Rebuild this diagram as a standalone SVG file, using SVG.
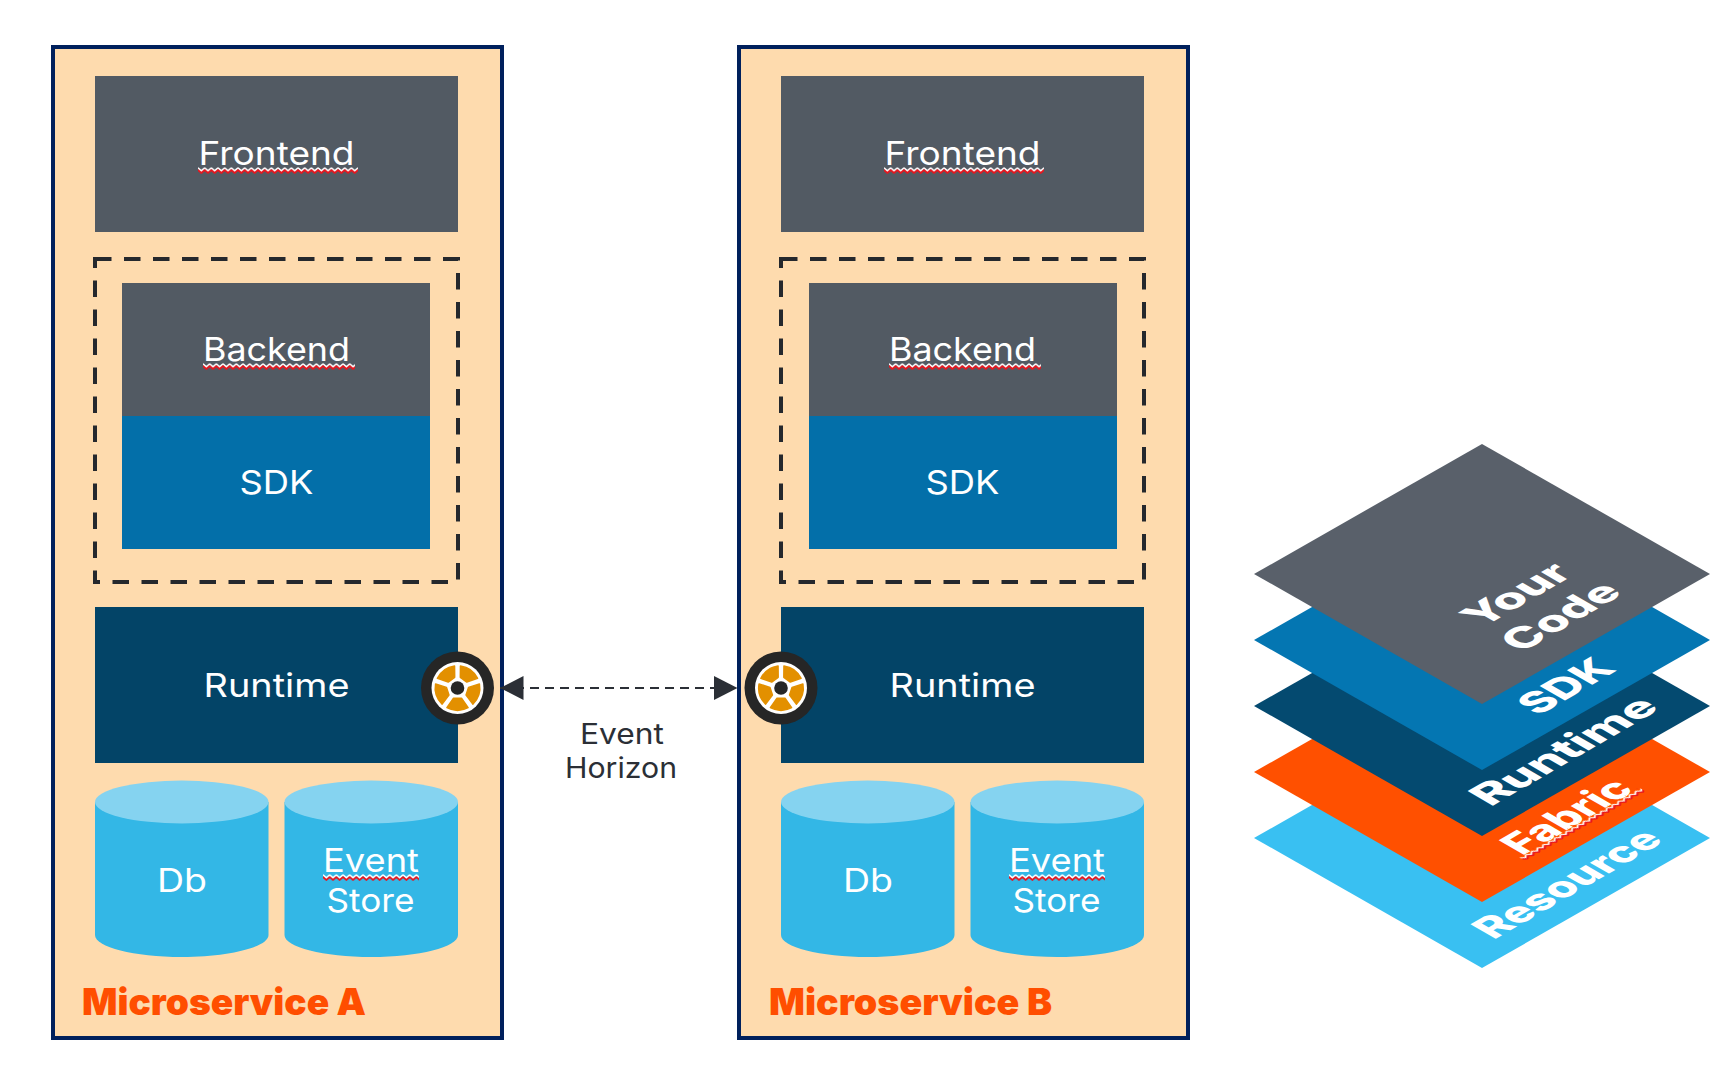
<svg xmlns="http://www.w3.org/2000/svg" xmlns:xlink="http://www.w3.org/1999/xlink" width="1718" height="1072" viewBox="0 0 1718 1072">
<style>
text{font-family:"Inter","Open Sans","Liberation Sans",sans-serif}
.lbl{font-size:33px;fill:#fff;text-anchor:middle}
.outer{fill:#fedbae;stroke:#00205c;stroke-width:4}
.gray{fill:#525a63}
.sdk{fill:#036fa9}
.rt{fill:#034467}
.dash{fill:none;stroke:#25282d;stroke-width:4;stroke-dasharray:16.5 12.5}
.body{fill:#33b7e6}
.top{fill:#85d3f0}
.title{font-size:37px;font-weight:900;fill:#ff4e00}
.iso{font-size:40px;font-weight:800;fill:#fff}
.cap{font-size:28.5px;fill:#2b2f36;text-anchor:middle}
.conn{stroke:#2b2f36;stroke-width:2.2;stroke-dasharray:9 6;fill:none}
</style>
<defs>
<pattern id="sq" patternUnits="userSpaceOnUse" width="6.67" height="8">
<path d="M0 3.8L3.33 6.8L6.67 3.8" fill="none" stroke="#e8141c" stroke-width="2"/>
<path d="M0 1.8L3.33 4.8L6.67 1.8" fill="none" stroke="#fff" stroke-width="1.5"/>
</pattern>
<marker id="ah" viewBox="0 0 23.5 24" refX="23.5" refY="12" markerWidth="23.5" markerHeight="24" markerUnits="userSpaceOnUse" orient="auto-start-reverse">
<path d="M0 0L23.5 12L0 24Z" fill="#2b2f36"/>
</marker>
<path id="spoke" d="M-4 10.3L4 10.3L10.6 19.6A22.5 22.5 0 0 1-10.6 19.6Z" fill="#e39000" stroke="#e39000" stroke-width="1.5" stroke-linejoin="round"/>
<g id="wheel">
<circle r="36.5" fill="#262626"/>
<circle r="26" fill="#fff"/>
<use xlink:href="#spoke"/>
<use xlink:href="#spoke" transform="rotate(72)"/>
<use xlink:href="#spoke" transform="rotate(144)"/>
<use xlink:href="#spoke" transform="rotate(216)"/>
<use xlink:href="#spoke" transform="rotate(288)"/>
<circle r="6.8" fill="#262626"/>
</g>
<g id="cyl">
<path class="body" d="M0 22V155C0 167 39 177 86.75 177S173.5 167 173.5 155V22Z"/>
<ellipse class="top" cx="86.75" cy="22" rx="86.75" ry="21.5"/>
</g>
</defs>

<g id="microservice-a">
<rect class="outer" x="53" y="47" width="449" height="991"/>
<text class="title" x="82" y="1015" textLength="284" lengthAdjust="spacingAndGlyphs">Microservice A</text>
</g>
<g id="microservice-b">
<rect class="outer" x="739" y="47" width="449" height="991"/>
<text class="title" x="769" y="1015" textLength="283" lengthAdjust="spacingAndGlyphs">Microservice B</text>
</g>

<g id="frontend-a">
<rect class="gray" x="95" y="76" width="363" height="156"/>
<text class="lbl" x="276.5" y="165" textLength="156" lengthAdjust="spacingAndGlyphs">Frontend</text>
<rect fill="url(#sq)" width="160" height="8" transform="translate(198 166)"/>
</g>
<g id="frontend-b">
<rect class="gray" x="781" y="76" width="363" height="156"/>
<text class="lbl" x="962.5" y="165" textLength="156" lengthAdjust="spacingAndGlyphs">Frontend</text>
<rect fill="url(#sq)" width="160" height="8" transform="translate(884 166)"/>
</g>

<g id="backend-group-a"><rect class="dash" x="95" y="259" width="363" height="323"/></g>
<g id="backend-group-b"><rect class="dash" x="781" y="259" width="363" height="323"/></g>

<g id="backend-a">
<rect class="gray" x="122" y="283" width="308" height="133"/>
<text class="lbl" x="276.5" y="361" textLength="147" lengthAdjust="spacingAndGlyphs">Backend</text>
<rect fill="url(#sq)" width="152" height="8" transform="translate(203 362)"/>
</g>
<g id="sdk-a">
<rect class="sdk" x="122" y="416" width="308" height="133"/>
<text class="lbl" x="276.5" y="494" textLength="74" lengthAdjust="spacingAndGlyphs">SDK</text>
</g>
<g id="backend-b">
<rect class="gray" x="809" y="283" width="308" height="133"/>
<text class="lbl" x="962.5" y="361" textLength="147" lengthAdjust="spacingAndGlyphs">Backend</text>
<rect fill="url(#sq)" width="152" height="8" transform="translate(889 362)"/>
</g>
<g id="sdk-b">
<rect class="sdk" x="809" y="416" width="308" height="133"/>
<text class="lbl" x="962.5" y="494" textLength="74" lengthAdjust="spacingAndGlyphs">SDK</text>
</g>

<g id="runtime-a">
<rect class="rt" x="95" y="607" width="363" height="156"/>
<text class="lbl" x="276.5" y="697" textLength="146" lengthAdjust="spacingAndGlyphs">Runtime</text>
<use xlink:href="#wheel" x="457.5" y="688"/>
</g>
<g id="runtime-b">
<rect class="rt" x="781" y="607" width="363" height="156"/>
<text class="lbl" x="962.5" y="697" textLength="146" lengthAdjust="spacingAndGlyphs">Runtime</text>
<use xlink:href="#wheel" x="781" y="688"/>
</g>

<g id="db-a">
<use xlink:href="#cyl" x="95" y="780"/>
<text class="lbl" x="182" y="892" textLength="50" lengthAdjust="spacingAndGlyphs">Db</text>
</g>
<g id="store-a">
<use xlink:href="#cyl" x="284.5" y="780"/>
<text class="lbl" x="371" y="872" textLength="96" lengthAdjust="spacingAndGlyphs">Event</text>
<text class="lbl" x="370.5" y="912" textLength="88" lengthAdjust="spacingAndGlyphs">Store</text>
<rect fill="url(#sq)" width="96" height="8" transform="translate(323 873)"/>
</g>
<g id="db-b">
<use xlink:href="#cyl" x="781" y="780"/>
<text class="lbl" x="868" y="892" textLength="50" lengthAdjust="spacingAndGlyphs">Db</text>
</g>
<g id="store-b">
<use xlink:href="#cyl" x="970.5" y="780"/>
<text class="lbl" x="1057" y="872" textLength="96" lengthAdjust="spacingAndGlyphs">Event</text>
<text class="lbl" x="1056.5" y="912" textLength="88" lengthAdjust="spacingAndGlyphs">Store</text>
<rect fill="url(#sq)" width="96" height="8" transform="translate(1009 873)"/>
</g>

<g id="connectors">
<line class="conn" x1="500" y1="688" x2="737.5" y2="688" marker-start="url(#ah)" marker-end="url(#ah)"/>
</g>
<g id="event-horizon">
<text class="cap" x="622" y="744" textLength="84" lengthAdjust="spacingAndGlyphs">Event</text>
<text class="cap" x="621" y="778" textLength="112" lengthAdjust="spacingAndGlyphs">Horizon</text>
</g>

<g id="layer-resource">
<polygon points="1254,838 1482,708 1710,838 1482,968" fill="#39c0f2"/>
<text class="iso" transform="matrix(.866 -.5 .866 .5 1493.5 940)" textLength="198" lengthAdjust="spacingAndGlyphs">Resource</text>
</g>
<g id="layer-fabric">
<polygon points="1254,772 1482,642 1710,772 1482,902" fill="#ff5000"/>
<g transform="matrix(.866 -.5 .866 .5 1522 856)">
<text class="iso" textLength="131" lengthAdjust="spacingAndGlyphs">Fabric</text>
<rect fill="url(#sq)" width="139" height="8" transform="translate(-3 -1)"/>
</g>
</g>
<g id="layer-runtime">
<polygon points="1254,706 1482,576 1710,706 1482,836" fill="#044a70"/>
<text class="iso" transform="matrix(.866 -.5 .866 .5 1490.5 807)" textLength="197" lengthAdjust="spacingAndGlyphs">Runtime</text>
</g>
<g id="layer-sdk">
<polygon points="1254,640 1482,510 1710,640 1482,770" fill="#0476b2"/>
<text class="iso" transform="matrix(.866 -.5 .866 .5 1538 716)" textLength="92" lengthAdjust="spacingAndGlyphs">SDK</text>
</g>
<g id="layer-code">
<polygon points="1254,574 1482,444 1710,574 1482,704" fill="#59606a"/>
<text class="iso" transform="matrix(.866 -.5 .866 .5 1482 628)" textLength="107" lengthAdjust="spacingAndGlyphs">Your</text>
<text class="iso" transform="matrix(.866 -.5 .866 .5 1521 653)" textLength="119" lengthAdjust="spacingAndGlyphs">Code</text>
</g>
</svg>
